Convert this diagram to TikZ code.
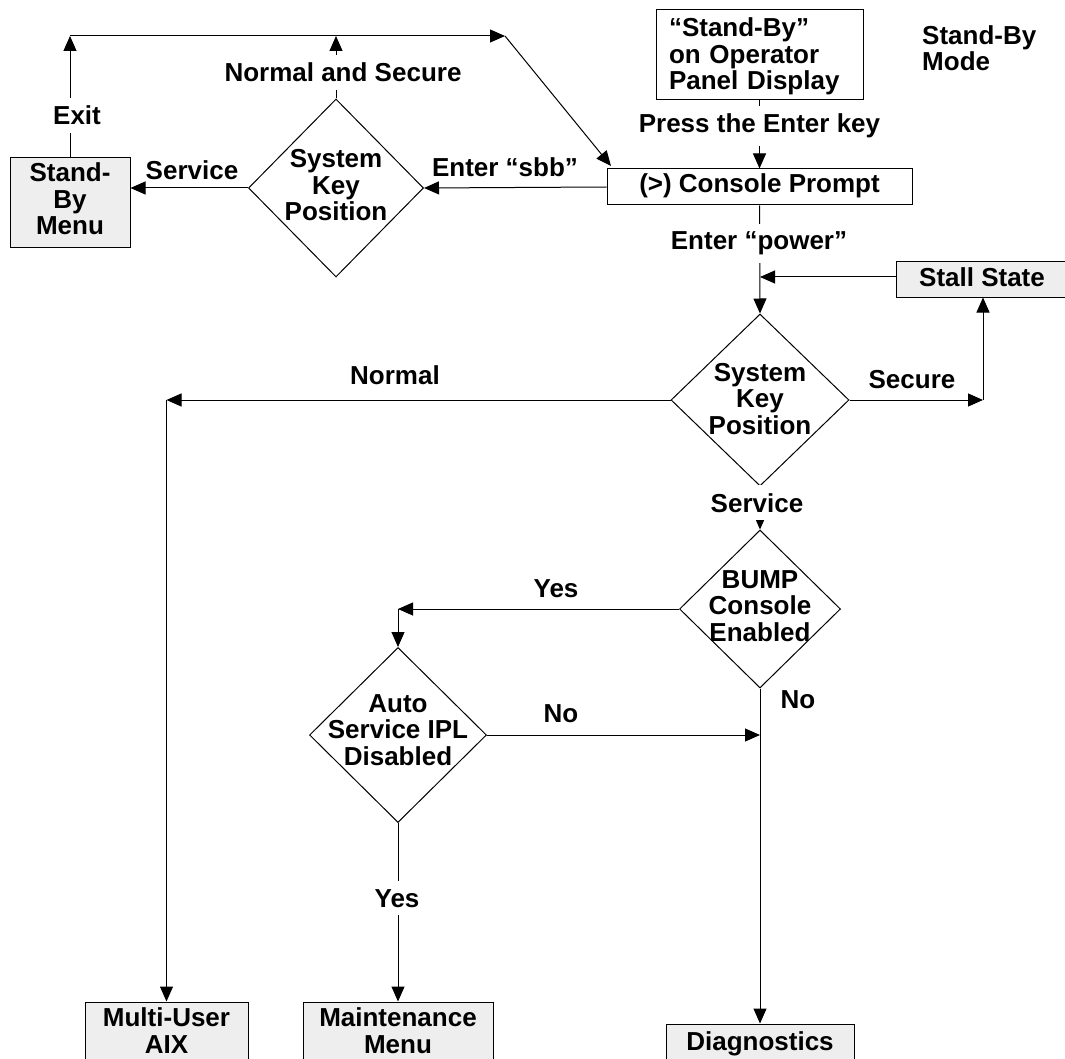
\documentclass[tikz,border=0pt]{standalone}
\usepackage{fontspec}
\setmainfont{Liberation Sans}
\usetikzlibrary{shapes.geometric,arrows.meta}
\definecolor{boxgray}{RGB}{238,238,238}
\newcommand\lblfont{\fontsize{26}{26.5}\selectfont\bfseries}
\tikzset{
  lbl/.style={font=\lblfont, inner sep=0pt, align=center, anchor=base},
  gap/.style={fill=white, inner xsep=3pt, inner ysep=8pt},
  box/.style={draw, line width=1pt, fill=boxgray, inner xsep=0pt, inner ysep=0pt, align=center, anchor=base, font=\lblfont},
  dia/.style={draw, diamond, inner sep=0pt, line width=1pt},
  arr/.style={-{Triangle[length=15pt,width=13pt]}, line width=1pt},
}
\begin{document}
\begin{tikzpicture}[x=1pt,y=-1pt]
\useasboundingbox (0,0) rectangle (1065,1059);

% boxes (base anchor = baseline of the last line; text width box: first line)
\node[box, minimum width=120, text height=77, text depth=13] (sbm) at (70,235) {Stand-\\By\\Menu};
\node[box, fill=white, text width=181, inner xsep=13, align=left, text height=27, text depth=63] (sb) at (759.5,37) {“Stand-By”\\on Operator\\Panel Display};
\node[box, fill=white, minimum width=305, text height=24, text depth=12] (con) at (759.5,193) {(>) Console Prompt};
\node[box, minimum width=172, text height=25, text depth=10] (stall) at (982,287) {Stall State};
\node[box, minimum width=163, text height=51, text depth=30] (aix) at (166.5,1053) {Multi-User\\AIX};
\node[box, minimum width=190, text height=51, text depth=30] (mm) at (398,1053) {Maintenance\\Menu};
\node[box, minimum width=188, text height=26, text depth=40] (diag) at (760,1050) {Diagnostics};
\node[lbl, anchor=base west, align=left] (mode) at (922,71) {Stand-By\\Mode};

% diamonds
\node[dia, minimum width=175, minimum height=178] (d1) at (336,188) {};
\node[lbl] (d1t) at (336,221) {System\\Key\\Position};
\node[dia, minimum width=178, minimum height=172] (d2) at (760,400) {};
\node[lbl] (d2t) at (760,434) {System\\Key\\Position};
\node[dia, minimum width=161, minimum height=158] (d3) at (760,609) {};
\node[lbl] (d3t) at (760,641) {BUMP\\Console\\Enabled};
\node[dia, minimum width=177, minimum height=175] (d4) at (398,735) {};
\node[lbl] (d4t) at (398,765) {Auto\\Service IPL\\Disabled};

% junction coordinates
\coordinate (tl) at (70,36);
\coordinate (tr) at (505,36);
\coordinate (nstop) at (336,36);
\coordinate (cpc) at (611,166);
\coordinate (sj) at (760,277);
\coordinate (sr) at (983,400);
\coordinate (nl) at (166.5,400);
\coordinate (yl) at (398,609);
\coordinate (nj) at (760,735);

% connectors
\draw[arr] (sbm.north) -- (tl);
\draw[arr] (tl) -- (tr);
\draw[arr] (tr) -- (cpc);
\draw[arr] (d1.north) -- (nstop);
\draw[arr] (d1.west) -- (sbm.east |- d1.west);
\draw[arr] (con.west) -- (d1.east);
\draw[arr] (sb.south) -- (con.north);
\draw[arr] (con.south) -- (d2.north);
\draw[arr] (stall.west |- sj) -- (sj);
\draw[arr] (d2.east) -- (sr);
\draw[arr] (sr) -- (sr |- stall.south);
\draw[arr] (d2.west) -- (nl);
\draw[arr] (nl) -- (aix.north);
\draw[arr] (d2.south) -- (d3.north);
\draw[arr] (d3.west) -- (yl);
\draw[arr] (yl) -- (d4.north);
\draw[arr] (d4.east) -- (nj);
\draw[arr] (d3.south) -- (diag.north);
\draw[arr] (d4.south) -- (mm.north);

% labels
\node[lbl, gap] (lexit) at (77,125) {Exit};
\node[lbl, gap] (lns) at (343,82) {Normal and Secure};
\node[lbl] (lsv1) at (192,180) {Service};
\node[lbl] (lsbb) at (505,177) {Enter “sbb”};
\node[lbl, gap] (lpress) at (759.5,133) {Press the Enter key};
\node[lbl, gap] (lpow) at (759,250) {Enter “power”};
\node[lbl] (lnorm) at (395,384) {Normal};
\node[lbl] (lsec) at (912,388) {Secure};
\node[lbl, gap] (lsv2) at (757,512) {Service};
\node[lbl] (lyes1) at (556,597) {Yes};
\node[lbl] (lno1) at (561,722) {No};
\node[lbl] (lno2) at (798,708) {No};
\node[lbl, gap] (lyes2) at (397,907) {Yes};
\end{tikzpicture}
\end{document}
